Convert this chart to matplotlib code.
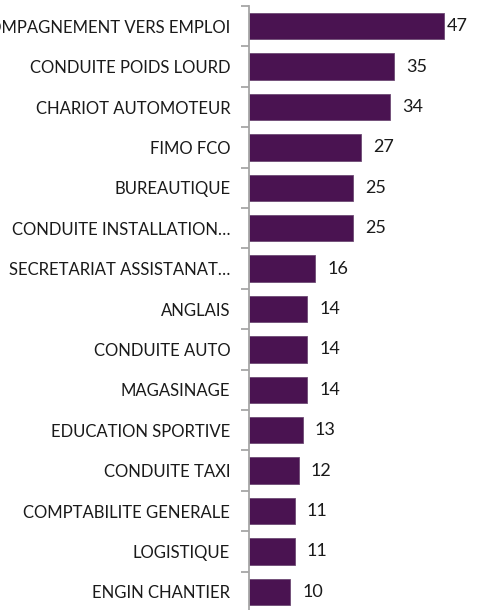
import matplotlib
matplotlib.use("Agg")
import matplotlib.pyplot as plt

categories = [
    "ACCOMPAGNEMENT VERS EMPLOI",
    "CONDUITE POIDS LOURD",
    "CHARIOT AUTOMOTEUR",
    "FIMO FCO",
    "BUREAUTIQUE",
    "CONDUITE INSTALLATION…",
    "SECRETARIAT ASSISTANAT…",
    "ANGLAIS",
    "CONDUITE AUTO",
    "MAGASINAGE",
    "EDUCATION SPORTIVE",
    "CONDUITE TAXI",
    "COMPTABILITE GENERALE",
    "LOGISTIQUE",
    "ENGIN CHANTIER",
]
values = [47, 35, 34, 27, 25, 25, 16, 14, 14, 14, 13, 12, 11, 11, 10]

plt.rcParams['font.family'] = ['Lato', 'DejaVu Sans']

W, H = 481, 610
fig = plt.figure(figsize=(W / 100, H / 100), dpi=100)
ax = fig.add_axes([249 / W, -2 / H, 50 * 4.15 / W, 606 / H])

n = len(categories)
ypos = list(range(n))
ax.barh(ypos, values, height=0.65, color="#4a1351", edgecolor="#6e4a74", linewidth=0.6)
ax.set_ylim(n - 0.5, -0.5)
ax.set_xlim(0, 50)

for spine in ["top", "right", "bottom"]:
    ax.spines[spine].set_visible(False)
ax.spines["left"].set_color("#a6a6a6")
ax.spines["left"].set_linewidth(1.3)

ax.set_xticks([])
ax.set_yticks([i - 0.5 for i in range(n + 1)], minor=False)
ax.set_yticklabels([])
ax.set_yticks(ypos, minor=True)
ax.set_yticklabels(categories, minor=True, fontsize=12, color="#1a1a1a")
ax.tick_params(axis="y", which="major", length=6, width=1.3, color="#a6a6a6")
ax.tick_params(axis="y", which="minor", length=0, pad=13.5)

for i, v in enumerate(values):
    off = 3 if v == max(values) else 12
    ax.annotate(str(v), (v, i), xytext=(off * 0.72, 0), textcoords="offset points",
                va="center", ha="left", fontsize=13, color="#1a1a1a")

fig.savefig("out.png", dpi=100)
